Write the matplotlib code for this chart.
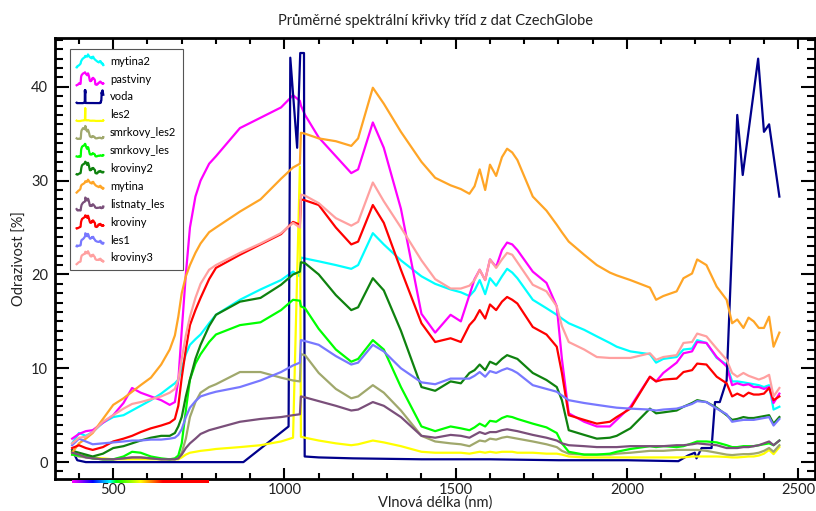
import numpy as np
import matplotlib
matplotlib.use('Agg')
import matplotlib.pyplot as plt
from matplotlib.lines import Line2D

plt.rcParams['font.family'] = ['Lato', 'DejaVu Sans']

# shared wavelength grid (nm) for the vegetation classes
wl = [380, 400, 420, 440, 470, 500, 530, 555, 580, 610,
      640, 665, 680, 690, 700, 712, 724, 740, 755, 780,
      800, 870, 930, 990, 1025, 1045, 1048, 1060, 1100, 1150,
      1195, 1215, 1258, 1290, 1340, 1400, 1440, 1485, 1515, 1540,
      1555, 1570, 1586, 1600, 1618, 1635, 1650, 1665, 1680, 1725,
      1765, 1795, 1810, 1830, 1875, 1912, 1950, 1970, 2010, 2067,
      2085, 2106, 2145, 2165, 2190, 2205, 2232, 2262, 2291, 2307,
      2322, 2340, 2355, 2370, 2385, 2400, 2415, 2428, 2445]

mytina2 = [2.0, 3.1, 2.8, 3.2, 4.2, 4.8, 5.0, 5.5, 6.0, 6.6,
           7.3, 8.0, 8.4, 8.8, 10.0, 11.5, 12.5, 13.1, 13.6, 14.8,
           15.7, 17.3, 18.4, 19.4, 20.3, 19.8, 21.8, 21.7, 21.4, 21.0,
           20.6, 21.0, 24.4, 23.2, 21.5, 19.8, 19.0, 18.4, 18.1, 17.7,
           18.3, 19.4, 17.9, 19.6, 18.8, 19.8, 20.6, 20.2, 19.6, 17.3,
           16.4, 15.7, 15.3, 14.8, 14.1, 13.4, 12.7, 12.3, 11.8, 11.5,
           10.6, 11.0, 11.2, 12.0, 12.1, 13.0, 12.7, 11.1, 10.4, 8.6,
           8.6, 8.5, 8.4, 8.3, 8.2, 8.0, 8.2, 5.6, 5.9]

pastviny = [2.5, 3.0, 3.3, 3.4, 4.2, 5.0, 6.3, 7.9, 7.4, 7.0,
            6.6, 6.1, 6.4, 8.7, 14.0, 20.0, 25.0, 28.3, 30.0, 31.8,
            32.6, 35.6, 36.7, 37.8, 39.1, 38.5, 38.0, 37.0, 34.6, 32.6,
            30.8, 31.2, 36.2, 33.5, 27.0, 15.8, 13.8, 15.7, 15.0, 17.8,
            19.5, 20.5, 19.4, 21.6, 20.8, 22.6, 23.4, 23.2, 22.6, 20.3,
            19.1, 16.6, 11.0, 5.2, 4.3, 3.8, 3.8, 4.5, 5.9, 9.1,
            8.6, 9.5, 10.6, 11.6, 11.8, 12.8, 12.7, 11.2, 10.2, 8.2,
            8.4, 8.2, 8.3, 8.0, 8.0, 7.8, 8.0, 6.3, 7.3]

les2 = [1.2, 0.8, 0.6, 0.5, 0.4, 0.3, 0.3, 0.3, 0.3, 0.3,
        0.3, 0.3, 0.3, 0.3, 0.5, 0.8, 1.0, 1.1, 1.2, 1.3,
        1.4, 1.6, 1.8, 2.2, 2.6, 31.5, 2.7, 2.6, 2.3, 2.0,
        1.8, 1.9, 2.3, 2.1, 1.7, 1.1, 1.0, 1.0, 1.0, 0.9,
        1.0, 1.1, 1.0, 1.1, 1.0, 1.1, 1.1, 1.1, 1.0, 1.0,
        0.9, 0.9, 0.8, 0.6, 0.5, 0.5, 0.5, 0.5, 0.5, 0.5,
        0.5, 0.5, 0.5, 0.5, 0.6, 0.6, 0.6, 0.6, 0.55, 0.5,
        0.5, 0.55, 0.6, 0.6, 0.7, 0.9, 1.3, 0.85, 1.6]

smrkovy_les2 = [0.8, 0.6, 0.5, 0.4, 0.3, 0.3, 0.4, 0.5, 0.5, 0.4,
                0.3, 0.3, 0.3, 0.4, 1.0, 2.5, 4.8, 6.4, 7.4, 8.0,
                8.3, 9.6, 9.6, 9.0, 8.7, 8.6, 11.5, 11.4, 9.5, 7.8,
                6.8, 7.0, 8.2, 7.4, 5.5, 2.8, 2.2, 2.0, 1.9, 1.7,
                2.0, 2.3, 2.2, 2.5, 2.4, 2.6, 2.7, 2.6, 2.5, 2.2,
                1.9, 1.6, 1.2, 0.9, 0.8, 0.8, 0.8, 0.9, 1.0, 1.2,
                1.2, 1.2, 1.3, 1.3, 1.3, 1.3, 1.2, 1.0, 0.8, 0.75,
                0.8, 0.85, 0.85, 0.9, 1.0, 1.2, 1.5, 1.1, 1.8]

smrkovy_les = [0.8, 0.7, 0.6, 0.4, 0.3, 0.3, 0.6, 1.1, 1.0, 0.6,
               0.4, 0.3, 0.4, 0.7, 2.0, 5.5, 8.8, 10.5, 11.5, 12.8,
               13.6, 14.6, 14.9, 16.2, 17.3, 17.2, 16.6, 16.4, 14.2, 12.0,
               10.7, 11.0, 13.0, 12.0, 8.0, 3.8, 3.3, 3.8, 3.6, 3.4,
               3.7, 4.1, 3.8, 4.4, 4.3, 4.7, 4.9, 4.8, 4.6, 4.1,
               3.7, 3.1, 2.0, 1.1, 0.8, 0.8, 0.9, 1.1, 1.4, 1.7,
               1.6, 1.7, 1.6, 1.7, 2.0, 2.2, 2.2, 2.1, 1.8, 1.6,
               1.6, 1.7, 1.7, 1.7, 1.8, 1.9, 2.0, 1.8, 2.3]

kroviny2 = [1.2, 1.0, 0.8, 0.6, 0.9, 1.5, 1.7, 2.0, 2.3, 2.6,
            2.8, 2.8, 3.1, 3.8, 4.8, 7.0, 8.8, 11.0, 12.5, 14.5,
            15.7, 17.1, 17.5, 18.9, 20.0, 20.3, 21.3, 21.2, 20.0, 17.8,
            16.2, 16.5, 19.6, 18.3, 14.0, 8.0, 7.6, 8.6, 8.4, 9.5,
            9.8, 10.4, 9.8, 10.7, 10.4, 11.0, 11.4, 11.2, 11.0, 9.5,
            8.75, 8.0, 6.6, 3.4, 2.9, 2.5, 2.6, 2.8, 3.6, 5.7,
            5.2, 5.3, 5.5, 5.9, 6.3, 6.6, 6.4, 5.8, 5.0, 4.5,
            4.6, 4.8, 4.7, 4.7, 4.8, 4.9, 5.0, 4.1, 4.8]

mytina = [1.0, 2.0, 2.5, 3.1, 4.6, 6.1, 6.8, 7.5, 8.2, 9.0,
          10.4, 12.0, 13.5, 15.5, 18.0, 19.8, 21.0, 22.3, 23.3, 24.5,
          25.0, 26.7, 28.0, 30.2, 31.4, 31.8, 35.1, 35.0, 34.5, 34.2,
          33.7, 34.5, 39.9, 38.2, 35.2, 32.0, 30.3, 29.5, 29.1, 28.6,
          29.4, 31.2, 29.0, 31.7, 30.5, 32.5, 33.4, 33.0, 32.2, 28.3,
          26.8, 25.3, 24.5, 23.5, 22.1, 21.0, 20.2, 19.9, 19.4, 18.6,
          17.3, 17.7, 18.2, 19.6, 20.1, 21.6, 21.0, 18.7, 17.3, 14.8,
          15.2, 14.3, 15.4, 15.0, 14.3, 14.3, 15.5, 12.3, 13.8]

listnaty_les = [1.0, 0.8, 0.5, 0.4, 0.3, 0.3, 0.4, 0.5, 0.5, 0.4,
                0.3, 0.3, 0.3, 0.4, 0.8, 1.5, 2.0, 2.5, 3.0, 3.4,
                3.6, 4.3, 4.6, 4.8, 5.0, 5.1, 7.0, 6.9, 6.5, 6.0,
                5.5, 5.6, 6.4, 6.0, 4.8, 2.8, 2.6, 2.9, 2.8, 2.6,
                2.9, 3.2, 3.0, 3.2, 3.2, 3.4, 3.5, 3.4, 3.3, 2.9,
                2.6, 2.3, 2.0, 1.8, 1.7, 1.6, 1.6, 1.6, 1.7, 1.7,
                1.7, 1.7, 1.8, 1.8, 1.9, 2.0, 1.9, 1.8, 1.5, 1.5,
                1.5, 1.6, 1.6, 1.7, 1.8, 2.0, 2.2, 1.8, 2.3]

kroviny = [1.5, 1.8, 1.5, 1.3, 1.6, 2.2, 2.5, 2.8, 3.2, 3.6,
           3.9, 4.2, 4.6, 6.0, 9.0, 12.0, 14.6, 16.2, 17.5, 19.5,
           20.7, 22.1, 23.2, 24.3, 25.6, 25.3, 28.0, 27.9, 27.4, 25.0,
           23.2, 23.5, 27.4, 25.5, 20.5, 14.8, 12.8, 13.2, 12.8, 14.6,
           15.2, 16.2, 15.3, 16.8, 16.2, 17.1, 17.6, 17.3, 16.9, 14.4,
           13.6, 12.3, 9.5, 5.0, 4.5, 4.1, 4.3, 4.8, 5.7, 9.1,
           8.6, 8.8, 8.9, 9.6, 9.8, 10.5, 10.4, 9.1, 8.4, 7.0,
           7.3, 7.0, 7.4, 7.2, 7.2, 7.3, 7.9, 6.6, 7.0]

les1 = [1.8, 2.5, 2.2, 1.9, 2.0, 2.1, 2.2, 2.3, 2.3, 2.4,
        2.4, 2.5, 2.6, 2.9, 3.5, 4.8, 5.8, 6.5, 7.0, 7.3,
        7.5, 8.0, 8.7, 9.6, 10.3, 10.6, 13.0, 12.9, 12.5, 11.3,
        10.4, 10.6, 12.5, 11.8, 10.0, 8.5, 8.3, 8.9, 8.9, 8.9,
        9.2, 9.6, 9.1, 9.7, 9.5, 9.8, 10.0, 9.8, 9.5, 8.2,
        7.8, 7.5, 7.1, 6.6, 6.3, 6.1, 5.9, 5.8, 5.7, 5.6,
        5.5, 5.6, 5.7, 5.9, 6.2, 6.5, 6.4, 5.7, 5.1, 4.3,
        4.4, 4.5, 4.5, 4.5, 4.6, 4.7, 4.8, 3.9, 4.6]

kroviny3 = [2.0, 2.6, 2.7, 3.2, 4.3, 5.0, 5.7, 6.2, 6.4, 6.7,
            7.0, 7.4, 7.8, 8.8, 11.0, 13.5, 15.5, 17.5, 19.0, 20.5,
            21.0, 22.3, 23.3, 24.4, 25.5, 25.0, 28.5, 28.4, 27.6, 26.0,
            25.2, 25.6, 29.8, 27.8, 25.0, 21.5, 19.5, 18.5, 18.5, 18.8,
            19.4, 20.5, 19.4, 21.6, 20.7, 21.6, 22.3, 22.1, 21.3, 18.9,
            18.2, 16.6, 14.5, 12.8, 12.0, 11.2, 11.1, 11.1, 11.1, 11.6,
            10.9, 11.2, 11.4, 12.7, 12.8, 13.7, 13.4, 12.1, 10.9, 9.5,
            9.1, 9.5, 9.2, 9.0, 8.8, 9.0, 9.3, 7.0, 7.9]

# water has its own sampling
voda_wl = [380, 395, 420, 500, 600, 700, 800, 880, 1012, 1017,
           1037, 1046, 1057, 1059, 1100, 1200, 1400, 1600, 1800, 2000,
           2150, 2178, 2198, 2203, 2218, 2247, 2257, 2271, 2291, 2322,
           2338, 2383, 2400, 2415, 2445]
voda = [1.3, 0.2, 0.0, 0.0, 0.0, 0.0, 0.0, 0.0, 3.8, 43.1,
        33.5, 43.6, 43.6, 0.6, 0.5, 0.4, 0.3, 0.3, 0.2, 0.2,
        0.1, 0.7, 1.0, 0.4, 1.5, 1.5, 6.4, 6.4, 8.7, 37.0,
        30.6, 43.0, 35.2, 36.0, 28.3]

classes = ['mytina2', 'pastviny', 'voda', 'les2', 'smrkovy_les2', 'smrkovy_les',
           'kroviny2', 'mytina', 'listnaty_les', 'kroviny', 'les1', 'kroviny3']
colors = ['#00ffff', '#ff00ff', '#00008b', '#ffff00', '#a0a86c', '#00ff00',
          '#0f820f', '#ffa526', '#7a4f7a', '#ff0000', '#7878ff', '#ffa0a0']


class CurveHandler:
    # legend icon = the curve itself squeezed into the handle box
    def __init__(self, x, y):
        self.x = np.asarray(x, float)
        self.y = np.asarray(y, float)

    def legend_artist(self, legend, orig_handle, fontsize, handlebox):
        x0, y0 = -handlebox.xdescent, -handlebox.ydescent
        w, h = handlebox.width, handlebox.height
        xs = x0 + (self.x - self.x.min()) / (self.x.max() - self.x.min()) * w
        ys = y0 + (self.y - self.y.min()) / (self.y.max() - self.y.min()) * h * 1.3 - h * 0.15
        line = Line2D(xs, ys, color=orig_handle.get_color(), linewidth=orig_handle.get_linewidth(),
                      transform=handlebox.get_transform())
        handlebox.add_artist(line)
        return line


def wavelength_rgb(w):
    if w < 440:
        return (-(w - 440) / 60.0, 0.0, 1.0)
    if w < 490:
        return (0.0, (w - 440) / 50.0, 1.0)
    if w < 510:
        return (0.0, 1.0, -(w - 510) / 20.0)
    if w < 580:
        return ((w - 510) / 70.0, 1.0, 0.0)
    if w < 645:
        return (1.0, -(w - 645) / 65.0, 0.0)
    return (1.0, 0.0, 0.0)


data = {'mytina2': (wl, mytina2), 'pastviny': (wl, pastviny), 'voda': (voda_wl, voda),
        'les2': (wl, les2), 'smrkovy_les2': (wl, smrkovy_les2), 'smrkovy_les': (wl, smrkovy_les),
        'kroviny2': (wl, kroviny2), 'mytina': (wl, mytina), 'listnaty_les': (wl, listnaty_les),
        'kroviny': (wl, kroviny), 'les1': (wl, les1), 'kroviny3': (wl, kroviny3)}

fig = plt.figure(figsize=(8.16, 5.11), dpi=100)
ax = fig.add_axes([55 / 816, 32 / 511, 760 / 816, 441 / 511])

handler_map = {}
for name, col in zip(classes, colors):
    x, y = data[name]
    ln, = ax.plot(x, y, color=col, linewidth=1.6, label=name)
    handler_map[ln] = CurveHandler(x, y)

# visible spectrum strip just under the x axis
vis = np.arange(380, 781, 2)
strip = np.array([[wavelength_rgb(v) for v in vis]])
ax.imshow(strip, extent=(380, 780, -0.0085, -0.0035), aspect='auto', interpolation='bilinear',
          transform=ax.get_xaxis_transform(), clip_on=False, zorder=3)

ax.set_xlim(330, 2549)
ax.set_ylim(-1.8, 45.2)
ax.set_xticks([500, 1000, 1500, 2000, 2500])
ax.set_xticks(np.arange(400, 2501, 100), minor=True)
ax.set_yticks([0, 10, 20, 30, 40])
ax.set_yticks(np.arange(-1, 46, 1), minor=True)
ax.tick_params(which='both', direction='in', top=True, right=True, width=1.5,
               labelsize=10.5, labelcolor='#222222')
ax.tick_params(axis='y', which='major', length=10, pad=5)
ax.tick_params(axis='y', which='minor', length=5.5)
ax.tick_params(axis='x', which='major', length=8, pad=3)
ax.tick_params(axis='x', which='minor', length=4)
for sp in ax.spines.values():
    sp.set_linewidth(2)

ax.set_title('Průměrné spektrální křivky tříd z dat CzechGlobe', fontsize=10.5, pad=9, color='#222222')
ax.set_xlabel('Vlnová délka (nm)', fontsize=10.5, labelpad=-1, color='#222222')
ax.set_ylabel('Odrazivost [%]', fontsize=10.5, labelpad=3, color='#222222')

leg = ax.legend(handler_map=handler_map, loc='upper left', bbox_to_anchor=(0.0197, 0.975),
                borderaxespad=0, fontsize=8, handlelength=2.4, handleheight=1.0,
                labelspacing=0.62, handletextpad=0.6, borderpad=0.6, fancybox=False,
                framealpha=1, edgecolor='#555555')
leg.get_frame().set_linewidth(0.8)

fig.savefig('out.png', dpi=100)
